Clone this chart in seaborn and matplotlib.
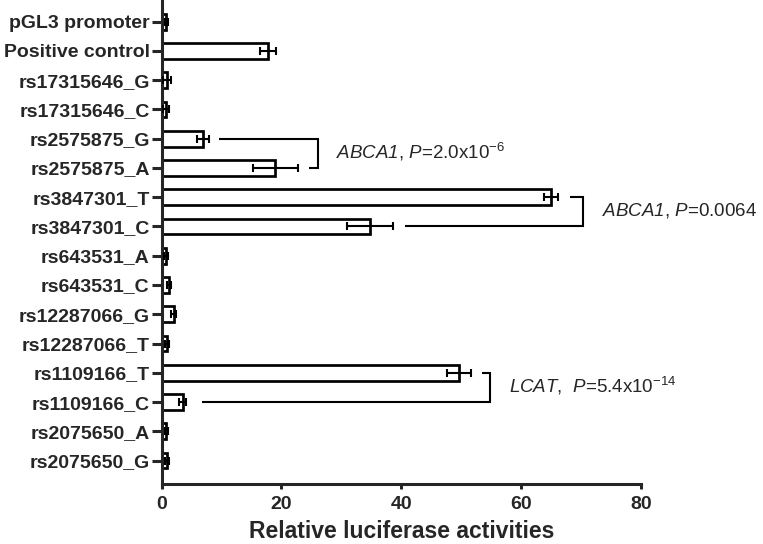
import numpy as np
import pandas as pd
import matplotlib
matplotlib.use("Agg")
import matplotlib.pyplot as plt
import seaborn as sns

categories = ["pGL3 promoter", "Positive control", "rs17315646_G", "rs17315646_C",
              "rs2575875_G", "rs2575875_A", "rs3847301_T", "rs3847301_C",
              "rs643531_A", "rs643531_C", "rs12287066_G", "rs12287066_T",
              "rs1109166_T", "rs1109166_C", "rs2075650_A", "rs2075650_G"]
values = [0.8, 17.8, 0.9, 0.8, 7.0, 19.0, 65.0, 34.8, 0.7, 1.2, 2.0, 0.9, 49.6, 3.5, 0.8, 0.9]
errors = [0.3, 1.3, 0.7, 0.5, 1.0, 3.7, 1.2, 3.9, 0.3, 0.3, 0.4, 0.3, 2.0, 0.6, 0.3, 0.4]

# brackets: (top category, bottom category, top arm start x, bottom arm start x, vertical x)
brackets = [("rs2575875_G", "rs2575875_A", 9.6, 24.6, 26.1),
            ("rs3847301_T", "rs3847301_C", 68.1, 40.6, 70.4),
            ("rs1109166_T", "rs1109166_C", 53.5, 6.8, 54.8)]
annot_text = [r"$\mathsf{ABCA1}$, $\mathsf{P}$=2.0x10$^{-6}$",
              r"$\mathsf{ABCA1}$, $\mathsf{P}$=0.0064",
              r"$\mathsf{LCAT}$,  $\mathsf{P}$=5.4x10$^{-14}$"]
annot_x = [29.1, 73.5, 57.9]

sns.set_style("ticks")
plt.rcParams["font.family"] = ["Liberation Sans", "DejaVu Sans"]
plt.rcParams["mathtext.fontset"] = "custom"
plt.rcParams["mathtext.rm"] = "Liberation Sans"
plt.rcParams["mathtext.it"] = "Liberation Sans:italic"
plt.rcParams["mathtext.sf"] = "Liberation Sans:italic"
plt.rcParams["mathtext.default"] = "regular"

fig = plt.figure(figsize=(7.63, 5.44), dpi=100)
ax = fig.add_axes([0.2117, 0.1103, 0.6284, 0.8897])

df = pd.DataFrame({"label": categories, "value": values, "err": errors})
sns.barplot(data=df, x="value", y="label", orient="h", color="white", saturation=1,
            edgecolor="black", linewidth=1.95, width=0.54, errorbar=None, ax=ax)
ypos = np.arange(len(categories))
ax.errorbar(df["value"], ypos, xerr=df["err"], fmt="none", ecolor="black",
            elinewidth=1.5, capsize=3, capthick=1.5, zorder=5)

idx = {c: i for i, c in enumerate(categories)}
for (top, bot, xt, xb, xv), txt, tx in zip(brackets, annot_text, annot_x):
    yt, yb = idx[top], idx[bot]
    ax.plot([xt, xv, xv, xb], [yt, yt, yb, yb], color="black", lw=1.5,
            solid_capstyle="butt", solid_joinstyle="miter")
    ax.text(tx, (yt + yb) / 2 - 0.05, txt, ha="left", va="center", fontsize=13.5,
            clip_on=False)

ax.set_xlim(0, 80)
ax.set_ylim(15.8, -0.74)
ax.set_xticks([0, 20, 40, 60, 80])
sns.despine(ax=ax)
for s in ["left", "bottom"]:
    ax.spines[s].set_linewidth(2.2)
ax.tick_params(axis="y", length=7.5, width=2.2, pad=1, labelsize=14)
ax.tick_params(axis="x", length=3.5, width=2.2, pad=5, labelsize=14)
for lab in ax.get_yticklabels() + ax.get_xticklabels():
    lab.set_fontweight("bold")
ax.set_ylabel("")
ax.set_xlabel("Relative luciferase activities", fontsize=16.5, fontweight="bold", labelpad=5)

fig.savefig("out.png", dpi=100)
